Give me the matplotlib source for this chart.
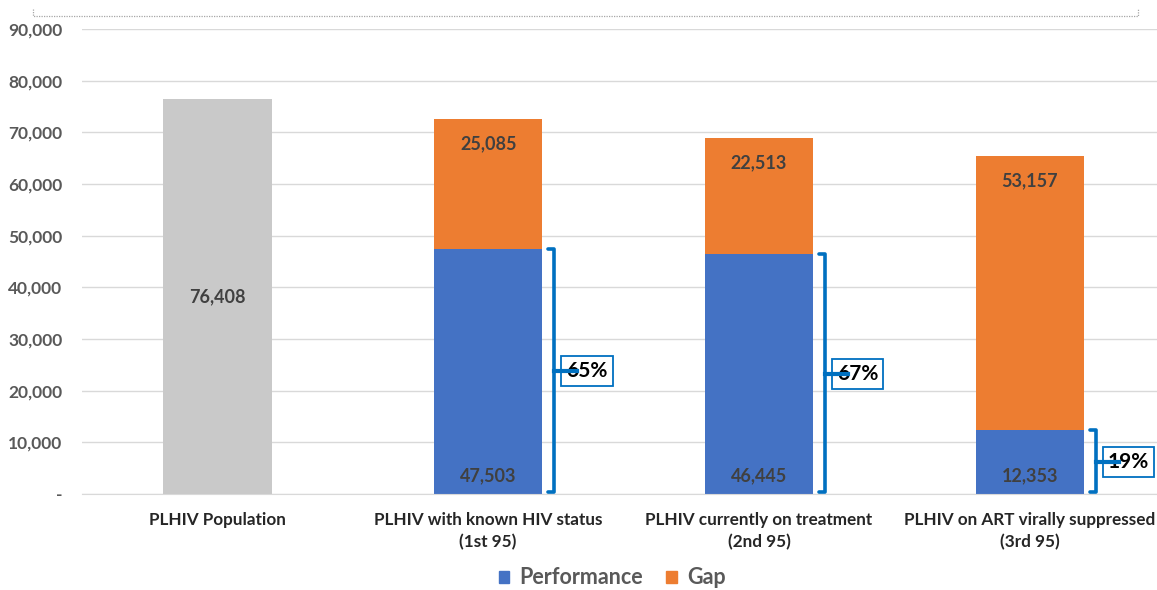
import matplotlib
matplotlib.use("Agg")
import matplotlib.pyplot as plt
from matplotlib.lines import Line2D
from matplotlib.patches import Patch
from matplotlib.ticker import FuncFormatter

categories = ["PLHIV Population", "PLHIV with known HIV status\n(1st 95)",
              "PLHIV currently on treatment\n(2nd 95)", "PLHIV on ART virally suppressed\n(3rd 95)"]
population = [76408, 0, 0, 0]
performance = [0, 47503, 46445, 12353]
gap = [0, 25085, 22513, 53157]
percent_labels = ["", "65%", "67%", "19%"]

plt.rcParams['font.family'] = ['Lato', 'DejaVu Sans']

fig = plt.figure(figsize=(11.57, 5.90), dpi=100)
ax = fig.add_axes([82/1157, 96/590, (1157-82)/1157, (561-96)/590])

x = list(range(len(categories)))
w = 0.4
blue = "#4472C4"
orange = "#ED7D31"
grey = "#C9C9C9"
bcol = "#0070C0"

ax.bar(x[0], population[0], w, color=grey, zorder=2)
ax.bar(x[1:], performance[1:], w, color=blue, zorder=2)
ax.bar(x[1:], gap[1:], w, bottom=performance[1:], color=orange, zorder=2)

lab_kw = dict(ha="center", va="center", fontsize=13, fontweight="bold", color="#404040",
              textcoords="offset points", zorder=5)
ax.annotate(f"{population[0]:,}", (x[0], population[0] / 2), xytext=(0, 0), **lab_kw)
for i in x[1:]:
    ax.annotate(f"{performance[i]:,}", (i, 0), xytext=(0, 13), **lab_kw)
    ax.annotate(f"{gap[i]:,}", (i, performance[i] + gap[i]), xytext=(0, -18), **lab_kw)

# brackets
for i in x[1:]:
    top = performance[i]
    xb = i + w / 2 + 0.044
    hook = 0.022
    ax.plot([xb - hook, xb, xb, xb - hook], [top, top, 300, 300], color=bcol, lw=2.6,
            solid_capstyle="round", solid_joinstyle="round", zorder=6, clip_on=False)
    mid = top / 2
    ax.plot([xb, xb + 0.085], [mid, mid], color=bcol, lw=3, zorder=7, clip_on=False)
    ax.text(i + 0.365, mid, percent_labels[i], ha="center", va="center", fontsize=15,
            color="black", zorder=6, fontweight="bold",
            bbox=dict(boxstyle="square,pad=0.24", fc="white", ec=bcol, lw=1.3))

ax.set_ylim(0, 90000)
ax.set_xlim(-0.5, 3.47)
ax.set_yticks(range(0, 90001, 10000))
ax.yaxis.set_major_formatter(FuncFormatter(lambda v, p: "-" if v == 0 else f"{int(v):,}"))
ax.set_xticks(x)
ax.set_xticklabels(categories, linespacing=1.45)
ax.tick_params(axis="y", length=0, pad=14, labelsize=12.5, labelcolor="#595959")
ax.tick_params(axis="x", length=0, pad=13, labelsize=12.3, labelcolor="#262626")
for t in ax.get_yticklabels() + ax.get_xticklabels():
    t.set_fontweight("bold")
ax.grid(axis="y", color="#D9D9D9", lw=1, zorder=0)
for s in ax.spines.values():
    s.set_visible(False)
ax.spines["bottom"].set_visible(True)
ax.spines["bottom"].set_color("#D9D9D9")

handles = [Patch(color=blue, label="Performance"), Patch(color=orange, label="Gap")]
leg = fig.legend(handles=handles, loc="center", bbox_to_anchor=(612/1157, 1 - 578/590), ncol=2,
                 frameon=False, handlelength=0.5, handleheight=0.5, handletextpad=0.45,
                 columnspacing=1.1, prop=dict(size=15.5, weight="bold"))
for t in leg.get_texts():
    t.set_color("#595959")

# dotted chart-area border fragment
fig.add_artist(Line2D([33/1157, 33/1157, 1138/1157, 1138/1157],
                      [1 - 9/590, 1 - 16/590, 1 - 16/590, 1 - 9/590],
                      color="#A6A6A6", lw=0.9, ls=(0, (1, 1))))

fig.savefig("out.png", dpi=100)
